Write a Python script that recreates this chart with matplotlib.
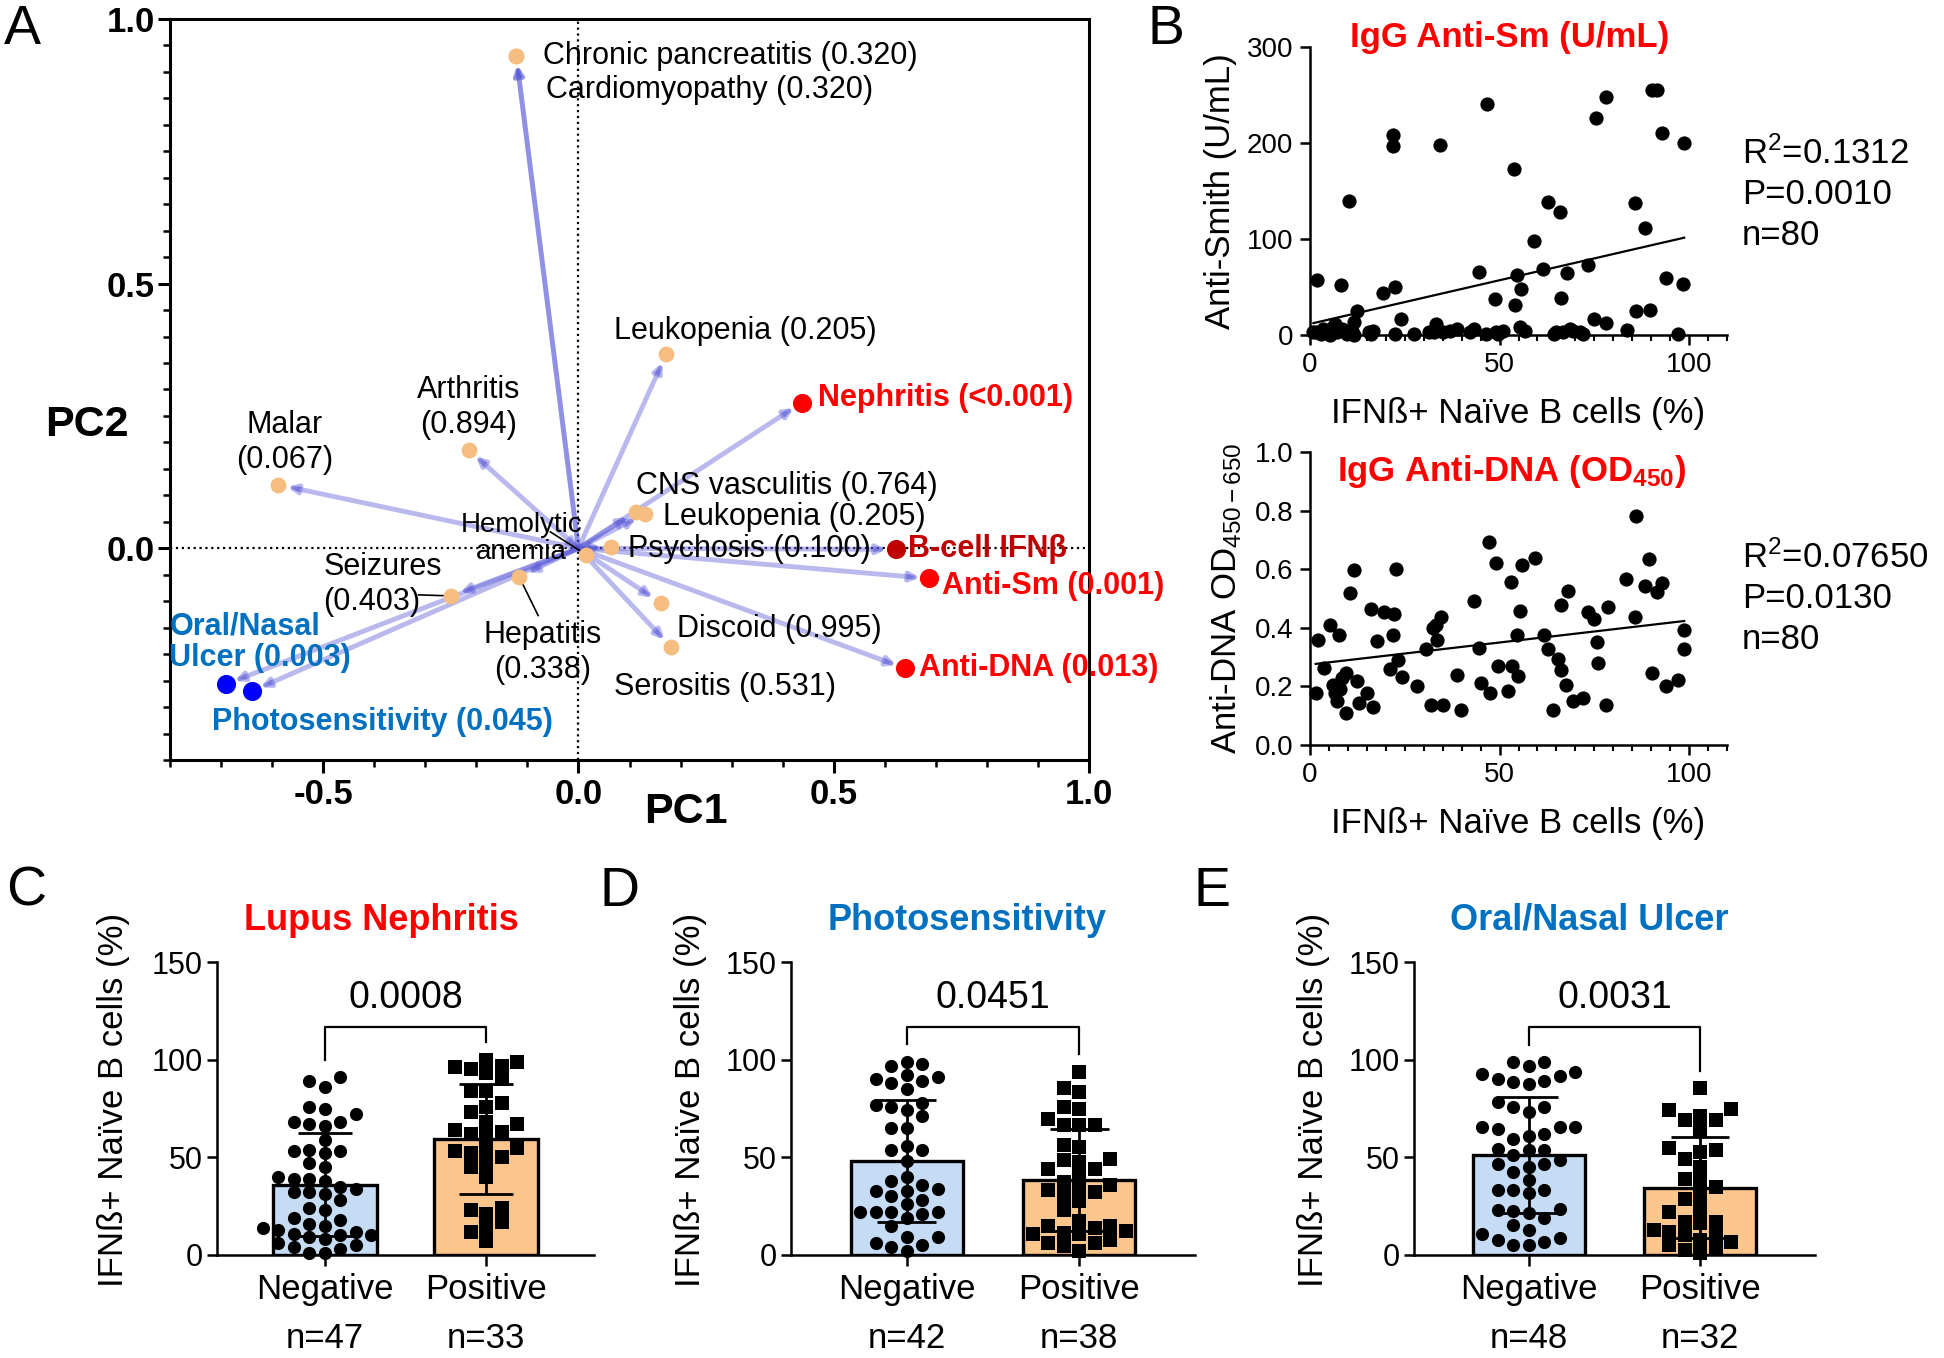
import numpy as np
import matplotlib
matplotlib.use('Agg')
import matplotlib.pyplot as plt
from matplotlib.ticker import MultipleLocator

plt.rcParams['font.family'] = ['Liberation Sans', 'DejaVu Sans']
plt.rcParams['mathtext.fontset'] = 'custom'
plt.rcParams['mathtext.rm'] = 'Liberation Sans'
plt.rcParams['mathtext.it'] = 'Liberation Sans:italic'
plt.rcParams['mathtext.bf'] = 'Liberation Sans:bold'
plt.rcParams['axes.unicode_minus'] = False

# ---------------- data: panel A (PCA loadings) ----------------
pca_labels = ['Chronic pancreatitis (0.320)', 'Cardiomyopathy (0.320)', 'Leukopenia (0.205)',
              'Nephritis (<0.001)', 'Arthritis\n(0.894)', 'Malar\n(0.067)', 'CNS vasculitis (0.764)',
              'Leukopenia (0.205)', 'Psychosis (0.100)', 'B-cell IFNβ', 'Anti-Sm (0.001)',
              'Hemolytic\nanemia', 'Hepatitis\n(0.338)', 'Seizures\n(0.403)', 'Discoid (0.995)',
              'Serositis (0.531)', 'Anti-DNA (0.013)', 'Oral/Nasal\nUlcer (0.003)',
              'Photosensitivity (0.045)']
pc1 = [-0.122, -0.122, 0.172, 0.437, -0.215, -0.588, 0.112, 0.130, 0.064, 0.622, 0.687,
       0.015, -0.116, -0.249, 0.161, 0.181, 0.640, -0.691, -0.640]
pc2 = [0.931, 0.931, 0.367, 0.275, 0.186, 0.120, 0.069, 0.065, 0.002, -0.002, -0.057,
       -0.012, -0.054, -0.090, -0.103, -0.186, -0.227, -0.257, -0.270]
pca_group = ['clin', 'clin', 'clin', 'pos', 'clin', 'clin', 'clin', 'clin', 'clin', 'ifn', 'pos',
             'clin', 'clin', 'clin', 'clin', 'clin', 'pos', 'neg', 'neg']

# ---------------- data: panel B (correlations) ----------------
sm_ifn = [1.9, 8.2, 10.4, 12.3, 11.7, 19.3, 22.4, 21.8, 21.8, 24.0, 34.2, 46.8, 44.6, 48.7, 53.9,
          54.5, 55.6, 54.1, 59.2, 61.5, 62.7, 65.9, 66.2, 67.8, 73.4, 75.4, 78.2, 75.0, 78.2, 85.6,
          88.5, 86.0, 89.6, 90.2, 91.5, 92.8, 93.8, 98.7, 98.5, 97.0, 83.5, 0.9, 2.8, 4.7, 6.0,
          6.6, 7.2, 8.5, 9.8, 15.5, 16.7, 22.4, 27.5, 31.3, 33.2, 35.1, 38.9, 43.3, 46.5, 49.0,
          55.4, 64.9, 69.3, 71.9, 1.5, 3.4, 5.3, 11.0, 11.7, 16.1, 32.6, 37.0, 42.1, 49.7, 51.0,
          56.7, 64.3, 66.8, 68.7, 71.2]
sm_val = [57, 52, 140, 25, 14, 44, 50, 208, 197, 17, 198, 241, 66, 38, 173, 62, 48, 31, 98, 69,
          139, 128, 39, 65, 73, 226, 248, 17, 12, 137, 111, 25, 26, 255, 255, 210, 59, 200, 53, 1,
          5, 2.8, 1, 4.5, 8, 11.4, 2.8, 6.2, 1, 2.8, 4.5, 1, 1, 2.8, 11.4, 2.8, 6.2, 6.2, 1, 2.8,
          8, 2.8, 4.5, 1, 2.8, 6.2, 0, 4.5, 0, 1, 2.8, 4.5, 2.8, 1, 4.5, 4.5, 1, 2.8, 6.2, 2.8]
dna_ifn = [2.2, 1.5, 3.7, 5.3, 7.6, 6.0, 6.6, 7.2, 8.5, 9.5, 9.5, 10.6, 11.7, 12.3, 12.9, 15.1,
           16.1, 16.7, 17.8, 19.6, 22.2, 21.8, 22.8, 21.2, 23.1, 24.3, 28.1, 30.7, 31.9, 33.2,
           34.5, 33.6, 35.1, 38.9, 39.9, 43.3, 44.6, 45.2, 47.1, 47.4, 49.0, 49.6, 52.2, 53.1,
           53.4, 54.8, 54.5, 55.4, 55.8, 59.4, 61.7, 62.9, 64.2, 65.3, 66.2, 67.4, 66.2, 68.1,
           69.3, 71.9, 73.4, 75.0, 75.7, 76.0, 78.2, 78.5, 83.3, 85.6, 86.1, 88.3, 89.3, 90.2,
           91.5, 92.8, 93.8, 97.2, 98.7, 98.7, 8.0, 32.5]
dna_od = [0.357, 0.177, 0.263, 0.408, 0.374, 0.206, 0.177, 0.149, 0.229, 0.246, 0.109, 0.518,
          0.598, 0.217, 0.143, 0.177, 0.465, 0.129, 0.354, 0.454, 0.446, 0.374, 0.600, 0.259,
          0.291, 0.232, 0.200, 0.328, 0.137, 0.411, 0.438, 0.358, 0.137, 0.240, 0.120, 0.491,
          0.331, 0.211, 0.694, 0.179, 0.621, 0.269, 0.186, 0.557, 0.269, 0.234, 0.374, 0.457,
          0.614, 0.637, 0.374, 0.328, 0.120, 0.294, 0.255, 0.206, 0.477, 0.526, 0.151, 0.160,
          0.454, 0.429, 0.351, 0.280, 0.137, 0.472, 0.566, 0.438, 0.783, 0.543, 0.634, 0.246,
          0.522, 0.552, 0.202, 0.223, 0.392, 0.328, 0.190, 0.400]
sm_stats = 'R$^{\\mathregular{2}}$=0.1312\nP=0.0010\nn=80'
dna_stats = 'R$^{\\mathregular{2}}$=0.07650\nP=0.0130\nn=80'

# ---------------- data: panels C-E (IFNb+ naive B cells, %) ----------------
groups = ['Negative', 'Positive']
neph_neg = [91, 89, 86, 76, 75, 72, 68, 68, 67, 66, 59, 54, 53, 53, 52, 47, 45, 40, 39, 39, 38,
            35, 34, 32, 32, 31, 28, 24, 23, 19, 18, 16, 15, 14, 13, 12, 11, 10, 10, 9, 8, 6, 5,
            4, 3, 1, 1]
neph_pos = [95, 97, 99, 100, 96, 84, 93, 84, 78, 73, 76, 63, 64, 67, 68, 62, 61, 54, 53, 55, 47,
            52, 50, 45, 40, 23, 24, 21, 14, 17, 12, 7, 90]
photo_neg = [98, 99, 97, 89, 91, 88, 90, 92, 85, 76, 77, 78, 74, 71, 40, 36, 65, 65, 28, 26, 54,
             56, 15, 54, 30, 48, 38, 34, 33, 33, 22, 22, 19, 22, 22, 21, 9, 9, 6, 5, 4, 2]
photo_pos = [93.9, 85.7, 83.2, 75.6, 74.8, 66.3, 66.3, 66.3, 69.7, 56.1, 55.3, 48.5, 49.4, 47.7,
             44, 44, 41, 37.5, 34.2, 33.3, 35.9, 32.5, 30, 27.4, 23.2, 14.7, 12.2, 10.5, 10.5,
             13.9, 17.2, 11.3, 14.7, 6.3, 2, 4.6, 6.3, 7.9]
ulcer_neg = [93.9, 97, 98.6, 98.6, 92.7, 90.1, 89.3, 88.8, 87.6, 91.8, 78.2, 75.7, 75.7, 73.1,
             65.5, 65.5, 64.6, 65.5, 62.1, 59.5, 60.9, 53.6, 51, 53.6, 54.4, 48.5, 42.5, 45.1,
             46.8, 46.8, 38.3, 33.2, 33.2, 33.2, 31.5, 22.4, 23.5, 23, 21.3, 18.7, 15.3, 12.8,
             10.5, 8.8, 7.7, 6.8, 5.1, 5.1]
ulcer_pos = [85.4, 74.8, 71.4, 74, 68.9, 68.9, 63.8, 54.8, 53.6, 52.7, 49.3, 45.1, 39.1, 38.3,
             34.9, 30.6, 28.9, 23.8, 22.1, 17, 16.2, 17, 12.8, 10.2, 11.9, 10.2, 6.8, 7.7, 5.1,
             2.6, 3.4, 0.9]
pvals_cde = ['0.0008', '0.0451', '0.0031']

# ---------------- figure ----------------
W, H = 1944, 1358
fig = plt.figure(figsize=(W / 100, H / 100), dpi=100)


def add_ax(l, t, r, b):
    return fig.add_axes([l / W, 1 - b / H, (r - l) / W, (b - t) / H])


# ===== Panel A =====
axA = add_ax(170, 19, 1089, 760)
axA.set_xlim(-0.8, 1.0)
axA.set_ylim(-0.4, 1.0)
axA.axhline(0, color='black', ls=':', lw=1.6, zorder=1)
axA.axvline(0, color='black', ls=':', lw=1.6, zorder=1)

dot_color = {'clin': '#f5bd80', 'pos': '#ff0000', 'ifn': '#c00000', 'neg': '#0000ff'}
dot_size = {'clin': 130, 'pos': 190, 'ifn': 190, 'neg': 190}
txt_color = {'clin': 'black', 'pos': '#ff0000', 'ifn': '#c00000', 'neg': '#0070c0'}

for i in range(len(pc1)):
    axA.annotate('', xy=(pc1[i], pc2[i]), xytext=(0, 0),
                 arrowprops=dict(arrowstyle='-|>', color='#5858d8', alpha=0.42, lw=3.5,
                                 shrinkA=0, shrinkB=7, mutation_scale=13), zorder=2)
for g in dot_color:
    xs = [pc1[i] for i in range(len(pc1)) if pca_group[i] == g]
    ys = [pc2[i] for i in range(len(pc2)) if pca_group[i] == g]
    axA.scatter(xs, ys, s=dot_size[g], color=dot_color[g], zorder=4, linewidths=0)

# label placement (data coords) and alignment
label_pos = [(-0.070, 0.931, 'left'), (-0.064, 0.865, 'left'), (0.070, 0.410, 'left'),
             (0.470, 0.284, 'left'), (-0.216, 0.266, 'center'), (-0.575, 0.199, 'center'),
             (0.112, 0.118, 'left'), (0.166, 0.059, 'left'), (0.097, -0.002, 'left'),
             (0.646, -0.002, 'left'), (0.713, -0.071, 'left'), (-0.112, 0.019, 'center'),
             (-0.070, -0.197, 'center'), (-0.500, -0.068, 'left'), (0.194, -0.152, 'left'),
             (0.070, -0.263, 'left'), (0.667, -0.227, 'left'), (-0.801, -0.178, 'left'),
             (-0.718, -0.328, 'left')]
for i, (lx, ly, ha) in enumerate(label_pos):
    g = pca_group[i]
    bold = g != 'clin'
    fs = 20 if i == 11 else 22
    ls = 1.03 if i == 11 else (1.05 if g == 'neg' else 1.22)
    axA.text(lx, ly, pca_labels[i], ha=ha, va='center', fontsize=fs,
             fontweight='bold' if bold else 'normal', color=txt_color[g],
             linespacing=ls, zorder=5)

leaders = {11: (-0.055, 0.031), 12: (-0.079, -0.127), 13: (-0.313, -0.088)}
for i, (lx, ly) in leaders.items():
    axA.plot([lx, pc1[i]], [ly, pc2[i]], color='black', lw=1.2, zorder=3)

axA.xaxis.set_minor_locator(MultipleLocator(0.1))
axA.yaxis.set_minor_locator(MultipleLocator(0.05))
axA.set_xticks([-0.5, 0.0, 0.5, 1.0])
axA.set_xticklabels(['-0.5', '0.0', '0.5', '1.0'])
axA.set_yticks([0.0, 0.5, 1.0])
axA.set_yticklabels(['0.0', '0.5', '1.0'])
axA.tick_params(which='major', direction='out', length=9, width=2.2, labelsize=25, pad=4)
axA.tick_params(which='minor', direction='out', length=5, width=1.8)
axA.tick_params(axis='y', pad=2)
for lab in axA.get_xticklabels() + axA.get_yticklabels():
    lab.set_fontweight('bold')
for sp in axA.spines.values():
    sp.set_linewidth(2.2)
axA.set_xlabel('PC1', fontsize=31, fontweight='bold')
axA.xaxis.set_label_coords(0.561, -0.070)
axA.xaxis.label.set_va('center')
axA.set_ylabel('PC2', fontsize=31, fontweight='bold', rotation=0)
axA.yaxis.set_label_coords(-0.090, 0.452)
axA.yaxis.label.set_va('center')
axA.yaxis.label.set_ha('center')


# ===== Panel B =====
def corr_panel(ax, x, y, ylim, yticks, yfmt, stats, stats_y):
    ax.scatter(x, y, s=105, color='black', zorder=3, clip_on=False, linewidths=0)
    k, b = np.polyfit(x, y, 1)
    xf = np.array([min(x), max(x)])
    ax.plot(xf, k * xf + b, color='black', lw=1.6, zorder=4)
    ax.set_xlim(0, 110)
    ax.set_ylim(*ylim)
    ax.set_xticks([0, 50, 100])
    ax.xaxis.set_minor_locator(MultipleLocator(5))
    ax.set_yticks(yticks)
    ax.set_yticklabels([yfmt.format(v) for v in yticks])
    ax.spines['top'].set_visible(False)
    ax.spines['right'].set_visible(False)
    ax.spines['left'].set_linewidth(1.8)
    ax.spines['bottom'].set_linewidth(1.8)
    ax.tick_params(which='major', direction='out', length=7, width=1.8, labelsize=20, pad=5)
    ax.tick_params(which='minor', direction='out', length=4, width=1.5)
    ax.set_xlabel('IFNß+ Naïve B cells (%)', fontsize=25, labelpad=14)
    fig.text(1742 / W, 1 - stats_y / H, stats, fontsize=25, ha='left', va='center',
             linespacing=1.3)


axB1 = add_ax(1310, 47, 1727, 335)
corr_panel(axB1, sm_ifn, sm_val, (0, 300), [0, 100, 200, 300], '{:d}', sm_stats, 194)
axB1.set_ylabel('Anti-Smith (U/mL)', fontsize=25, va='center')
axB1.yaxis.set_label_coords(-0.215, 0.5)
fig.text(1510 / W, 1 - 37 / H, 'IgG Anti-Sm (U/mL)', color='#ff0000', fontsize=25,
         fontweight='bold', ha='center', va='center')

axB2 = add_ax(1310, 452, 1727, 745)
corr_panel(axB2, dna_ifn, dna_od, (0, 1.0), [0.0, 0.2, 0.4, 0.6, 0.8, 1.0], '{:.1f}',
           dna_stats, 598)
axB2.set_ylabel('Anti-DNA OD$_{\\mathregular{450-650}}$', fontsize=25, va='center')
axB2.yaxis.set_label_coords(-0.20, 0.5)
fig.text(1512 / W, 1 - 472 / H, 'IgG Anti-DNA (OD$_{\\mathregular{450}}$)', color='#ff0000',
         fontsize=25, fontweight='bold', ha='center', va='center')


# ===== Panels C-E =====
def swarm_offsets(ax, vals, step_px, diam_px):
    p0 = ax.transData.transform((0, 0))
    p1 = ax.transData.transform((1, 1))
    dx = step_px / (p1[0] - p0[0])
    dy = diam_px / (p1[1] - p0[1])
    order = np.argsort(vals)
    placed = {}
    offs = np.zeros(len(vals))
    cand = [0]
    for k in range(1, 20):
        cand += [-k, k]
    for i in order:
        v = vals[i]
        for k in cand:
            if all(abs(v - u) >= dy * 0.95 for u in placed.get(k, [])):
                placed.setdefault(k, []).append(v)
                offs[i] = k * dx
                break
    return offs


def bar_panel(ax, neg, pos, title, tcolor, pval, ylab_x):
    ax.set_xlim(-0.67, 1.67)
    ax.set_ylim(0, 150)
    cols = ['#c6dcf5', '#fbc68c']
    marks = ['o', 's']
    for j, vals in enumerate([neg, pos]):
        vals = np.array(vals, dtype=float)
        m, sd = vals.mean(), vals.std(ddof=1)
        ax.bar(j, m, width=0.65, color=cols[j], edgecolor='black', linewidth=2.4, zorder=2)
        offs = swarm_offsets(ax, vals, 15.5, 13.5)
        ax.scatter(j + offs, vals, s=90, marker=marks[j], color='black', linewidths=0,
                   zorder=3, clip_on=False)
        ax.vlines(j, m - sd, m + sd, color='black', lw=2, zorder=4)
        ax.hlines([m - sd, m + sd], j - 0.17, j + 0.17, color='black', lw=2, zorder=4)
    top_neg = max(neg) + 9
    top_pos = max(pos) + 9
    ax.plot([0, 0, 1, 1], [top_neg, 116.8, 116.8, top_pos], color='black', lw=1.6)
    ax.text(0.5, 131.5, pval, ha='center', va='center', fontsize=27)
    ax.set_xticks([0, 1])
    ax.set_xticklabels(['{}\nn={}'.format(groups[0], len(neg)),
                        '{}\nn={}'.format(groups[1], len(pos))], linespacing=1.6)
    ax.set_yticks([0, 50, 100, 150])
    ax.spines['top'].set_visible(False)
    ax.spines['right'].set_visible(False)
    ax.spines['left'].set_linewidth(1.8)
    ax.spines['bottom'].set_linewidth(1.8)
    ax.tick_params(axis='y', direction='out', length=7, width=1.8, labelsize=22, pad=3)
    ax.tick_params(axis='x', direction='out', length=8, width=1.8, labelsize=25, pad=5)
    ax.set_ylabel('IFNß+ Naïve B cells (%)', fontsize=25, va='center')
    ax.yaxis.set_label_coords(ylab_x, 0.53)
    ax.text(0.35, 1.143, title, transform=ax.get_xaxis_transform(), ha='center',
            va='center', fontsize=26, fontweight='bold', color=tcolor)


axC = add_ax(217, 962, 594, 1255)
bar_panel(axC, neph_neg, neph_pos, 'Lupus Nephritis', '#ff0000', pvals_cde[0], -0.275)
axD = add_ax(791, 962, 1195, 1255)
bar_panel(axD, photo_neg, photo_pos, 'Photosensitivity', '#0070c0', pvals_cde[1], -0.25)
axE = add_ax(1414, 962, 1815, 1255)
bar_panel(axE, ulcer_neg, ulcer_pos, 'Oral/Nasal Ulcer', '#0070c0', pvals_cde[2], -0.25)

# panel letters
for letter, px, py in [('A', 4, 4), ('B', 1147, 4), ('C', 6, 866), ('D', 599, 866),
                       ('E', 1194, 866)]:
    fig.text(px / W, 1 - py / H, letter, fontsize=40, ha='left', va='top')

fig.savefig('out.png', dpi=100)
